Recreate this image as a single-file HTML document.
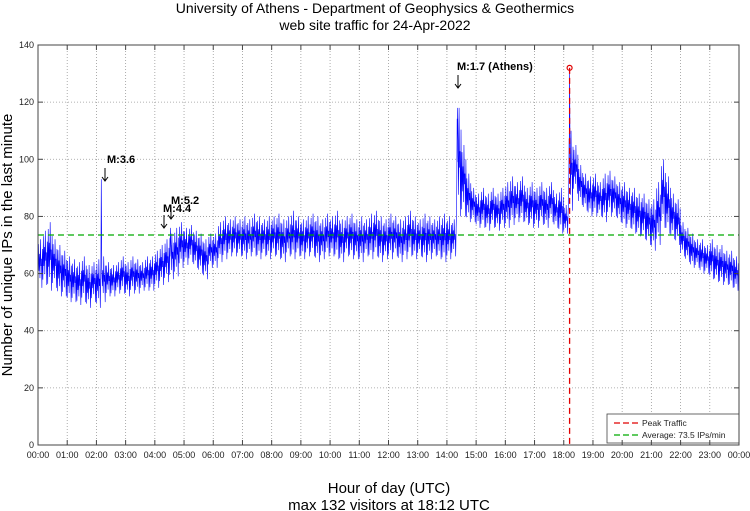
<!DOCTYPE html>
<html><head><meta charset="utf-8"><style>
html,body{margin:0;padding:0;background:#fff;}
svg{display:block;font-family:"Liberation Sans",sans-serif;}
</style></head><body>
<svg id="chart" width="750" height="511" viewBox="0 0 750 511">
<text x="375" y="13" font-size="14" text-anchor="middle">University of Athens - Department of Geophysics &amp; Geothermics</text>
<text x="375" y="30" font-size="14" text-anchor="middle">web site traffic for 24-Apr-2022</text>
<text transform="translate(12,245) rotate(-90)" font-size="15" text-anchor="middle">Number of unique IPs in the last minute</text>
<text x="389" y="493" font-size="15" text-anchor="middle">Hour of day (UTC)</text>
<text x="389" y="510" font-size="15" text-anchor="middle">max 132 visitors at 18:12 UTC</text>
<g id="grid"></g><g id="series"></g><g id="overlay"></g><g id="axes"></g>
</svg>
<script>
const yTicks=[0,20,40,60,80,100,120,140];
const xTickLabels=["00:00","01:00","02:00","03:00","04:00","05:00","06:00","07:00","08:00","09:00","10:00","11:00","12:00","13:00","14:00","15:00","16:00","17:00","18:00","19:00","20:00","21:00","22:00","23:00","00:00"];
const binLo=[55,56,54,55,52,52, 50,50,49,50,48,50, 48,50,52,52,53,53, 52,53,53,54,54,54, 55,56,57,58,59,62, 63,64,62,60,58,62, 62,64,65,66,66,66, 65,66,66,65,66,65,
66,65,64,66,65,66, 65,66,66,64,65,66, 66,65,64,66,65,65, 64,66,65,66,64,65, 65,66,64,65,66,65, 66,64,65,66,65,64, 65,66,80,80,78,78,
76,76,75,76,75,76, 76,77,78,78,77,76, 76,77,76,78,76,74, 74,82,88,84,82,80, 80,80,78,80,80,78, 76,76,74,73,72,70, 68,70,76,74,72,70, 66,64,62,62,60,60, 58,57,56,56,55,54];
const binHi=[72,75,78,72,70,68, 66,65,64,66,63,64, 65,66,64,63,64,66, 64,66,65,64,66,66, 68,70,72,74,76,78, 76,77,75,74,72,74, 74,78,80,79,80,79, 80,79,81,80,79,80,
80,81,79,80,82,80, 79,80,81,80,79,81, 80,82,79,80,81,79, 80,79,81,82,80,79, 81,80,79,80,82,80, 79,81,80,79,80,81, 80,79,118,105,95,90,
88,90,88,90,88,90, 92,94,92,94,90,92, 90,92,90,92,88,90, 84,110,105,98,95,94, 95,92,95,96,94,92, 92,90,90,88,88,86, 86,92,100,94,88,86, 78,76,74,72,72,70, 72,70,70,68,68,66];
const spikeMinute=[130,272,862,1092];
const spikeValue=[93,76,118,132];
const peakMinute=1092, peakValue=132, averageValue=73.5;

const X0=38,X1=739,Y0=445,Y1=45;
const xs=m=>X0+(m/1440)*(X1-X0);
const ys=v=>Y0-(v/140)*(Y0-Y1);
const NS="http://www.w3.org/2000/svg";
function mk(tag,attrs,parent){const e=document.createElementNS(NS,tag);for(const k in attrs)e.setAttribute(k,attrs[k]);parent.appendChild(e);return e;}
const grid=document.getElementById('grid'),axes=document.getElementById('axes'),series=document.getElementById('series'),ov=document.getElementById('overlay');
mk('rect',{x:X0,y:Y1,width:X1-X0,height:Y0-Y1,fill:'#fff'},grid);
yTicks.forEach(v=>{
  const y=ys(v);
  if(v>0&&v<140){const g=mk('line',{x1:X0,x2:X1,y1:y,y2:y,stroke:'#999','stroke-width':0.8,'stroke-dasharray':'1,2'},grid);
  
  }
  mk('line',{x1:X0,x2:X0+5,y1:y,y2:y,stroke:'#444'},axes);
  mk('line',{x1:X1,x2:X1-5,y1:y,y2:y,stroke:'#444'},axes);
  const t=mk('text',{x:X0-4,y:y+3,'font-size':9,'text-anchor':'end',fill:'#222'},axes);
  t.textContent=v;
  
  
});
xTickLabels.forEach((lab,i)=>{
  const x=xs(i*60);
  if(i>0&&i<24){const g=mk('line',{x1:x,x2:x,y1:Y1,y2:Y0,stroke:'#999','stroke-width':0.8,'stroke-dasharray':'1,2'},grid);
  
  }
  mk('line',{x1:x,x2:x,y1:Y0,y2:Y0-5,stroke:'#444'},axes);
  mk('line',{x1:x,x2:x,y1:Y1,y2:Y1+5,stroke:'#444'},axes);
  const t=mk('text',{x:x,y:458,'font-size':9,'text-anchor':'middle',fill:'#222'},axes);
  t.textContent=lab;
  
  
});
const frame=mk('rect',{x:X0,y:Y1,width:X1-X0,height:Y0-Y1,fill:'none',stroke:'#444','stroke-width':1},axes);



// build traffic line: within each bin, step through fixed fractions of the bin's lo..hi range
const frac=[0.1,0.9,0.35,0.7,0.2,1.0,0.45,0.6,0.0,0.8];
let pts=[];
for(let b=0;b<binLo.length;b++){
  for(let k=0;k<frac.length;k++){
    const m=b*10+k;
    pts.push([m,binLo[b]+frac[k]*(binHi[b]-binLo[b])]);
  }
}
spikeMinute.forEach((m,i)=>{
  const b=Math.floor(m/10);
  pts=pts.filter(p=>Math.abs(p[0]-m)>=1);
  pts.push([m-1,(binLo[b]+binHi[b])/2]);pts.push([m,spikeValue[i]]);pts.push([m+1,(binLo[b]+binHi[b])/2+4]);
});
pts.sort((a,b)=>a[0]-b[0]);
const line=mk('polyline',{points:pts.map(p=>xs(p[0]).toFixed(2)+','+ys(p[1]).toFixed(2)).join(' '),fill:'none',stroke:'#0000ff','stroke-width':0.6},series);



const avg=mk('line',{x1:X0,x2:X1,y1:ys(averageValue),y2:ys(averageValue),stroke:'#00aa00','stroke-width':1.3,'stroke-dasharray':'6,4'},ov);


const pk=mk('line',{x1:xs(peakMinute),x2:xs(peakMinute),y1:ys(peakValue),y2:Y0,stroke:'#e00000','stroke-width':1.3,'stroke-dasharray':'6,4'},ov);


const pc=mk('circle',{cx:xs(peakMinute),cy:ys(peakValue),r:2.5,fill:'none',stroke:'#e00000','stroke-width':1.2},ov);



const ann=[["M:3.6",107,163,105,168,181],["M:5.2",171,204,171,207,219],["M:4.4",163,212,164,215,228],["M:1.7 (Athens)",457,70,458,75,88]];
ann.forEach(a=>{
  const t=mk('text',{x:a[1],y:a[2],'font-size':11,'font-weight':'bold',fill:'#000'},ov);
  t.textContent=a[0];
  
  
  mk('line',{x1:a[3],x2:a[3],y1:a[4],y2:a[5],stroke:'#000','stroke-width':1},ov);
  mk('polyline',{points:(a[3]-3)+','+(a[5]-4)+' '+a[3]+','+a[5]+' '+(a[3]+3)+','+(a[5]-4),fill:'none',stroke:'#000','stroke-width':1},ov);
});

const lg=mk('g',{},ov);


mk('rect',{x:607,y:414,width:132,height:29,fill:'#fff',stroke:'#444','stroke-width':0.8},lg);
mk('line',{x1:614,x2:638,y1:423,y2:423,stroke:'#e00000','stroke-width':1.3,'stroke-dasharray':'6,3'},lg);
mk('line',{x1:614,x2:638,y1:435,y2:435,stroke:'#00aa00','stroke-width':1.3,'stroke-dasharray':'6,3'},lg);
const l1=mk('text',{x:642,y:426,'font-size':8.5,fill:'#222'},lg);l1.textContent='Peak Traffic';


const l2=mk('text',{x:642,y:438,'font-size':8.5,fill:'#222'},lg);l2.textContent='Average: 73.5 IPs/min';


</script>
</body></html>
